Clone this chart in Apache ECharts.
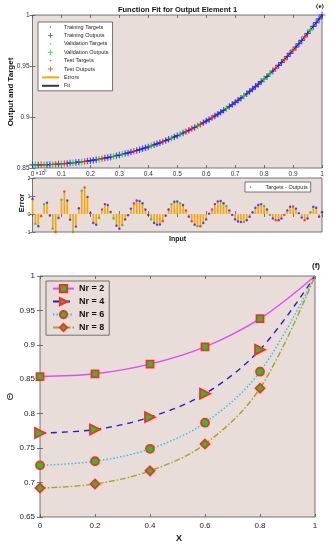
<!DOCTYPE html>
<html><head><meta charset="utf-8">
<script src="https://cdn.jsdelivr.net/npm/echarts@6/dist/echarts.min.js"></script>
<style>html,body{margin:0;padding:0;background:#fff}#c{width:334px;height:550px}</style>
</head><body><div id="c"></div>
<script>
// ---------- (e) Function fit data ----------
const inputs = [0,0.01,0.02,0.03,0.04,0.05,0.06,0.07,0.08,0.09,
0.1,0.11,0.12,0.13,0.14,0.15,0.16,0.17,0.18,0.19,
0.2,0.21,0.22,0.23,0.24,0.25,0.26,0.27,0.28,0.29,
0.3,0.31,0.32,0.33,0.34,0.35,0.36,0.37,0.38,0.39,
0.4,0.41,0.42,0.43,0.44,0.45,0.46,0.47,0.48,0.49,
0.5,0.51,0.52,0.53,0.54,0.55,0.56,0.57,0.58,0.59,
0.6,0.61,0.62,0.63,0.64,0.65,0.66,0.67,0.68,0.69,
0.7,0.71,0.72,0.73,0.74,0.75,0.76,0.77,0.78,0.79,
0.8,0.81,0.82,0.83,0.84,0.85,0.86,0.87,0.88,0.89,
0.9,0.91,0.92,0.93,0.94,0.95,0.96,0.97,0.98,0.99,1];
const outputs = [0.8530,0.8530,0.8530,0.8531,0.8532,0.8533,0.8534,0.8535,0.8537,0.8538,
0.8540,0.8543,0.8545,0.8548,0.8551,0.8554,0.8557,0.8560,0.8564,0.8568,
0.8572,0.8577,0.8581,0.8586,0.8591,0.8597,0.8602,0.8608,0.8614,0.8621,
0.8627,0.8634,0.8641,0.8648,0.8656,0.8664,0.8672,0.8680,0.8689,0.8698,
0.8707,0.8717,0.8727,0.8737,0.8747,0.8758,0.8769,0.8781,0.8792,0.8805,
0.8817,0.8830,0.8843,0.8856,0.8870,0.8884,0.8898,0.8913,0.8928,0.8944,
0.8960,0.8976,0.8993,0.9011,0.9028,0.9046,0.9065,0.9084,0.9103,0.9123,
0.9143,0.9164,0.9185,0.9206,0.9228,0.9251,0.9274,0.9298,0.9322,0.9347,
0.9372,0.9397,0.9424,0.9451,0.9478,0.9506,0.9534,0.9563,0.9593,0.9624,
0.9655,0.9686,0.9718,0.9751,0.9785,0.9819,0.9854,0.9889,0.9925,0.9962,
1.0000];
// errors (targets - outputs), in units of 1e-5
const errors = [0.83,-0.55,-0.68,-0.12,0.55,0.63,-0.08,-0.82,-1.0,-0.22,
0.8,1.25,0.75,-0.32,-1.0,-0.7,0.32,1.3,1.48,0.95,
0.05,-0.5,-0.6,-0.22,0.25,0.55,0.5,0.12,-0.25,-0.65,
-0.82,-0.62,-0.3,-0.07,0.3,0.6,0.75,0.72,0.6,0.25,
-0.05,-0.3,-0.5,-0.6,-0.58,-0.4,-0.1,0.25,0.55,0.68,
0.7,0.6,0.5,0.2,-0.15,-0.4,-0.6,-0.68,-0.68,-0.5,
-0.3,0.02,0.25,0.55,0.7,0.72,0.6,0.45,0.2,-0.05,
-0.3,-0.42,-0.45,-0.45,-0.35,-0.15,0.1,0.35,0.5,0.55,
0.45,0.25,-0.05,-0.25,-0.35,-0.35,-0.25,-0.05,0.2,0.4,
0.42,0.3,0.05,-0.2,-0.35,-0.25,0.1,0.4,0.35,-0.15,
0.1];
const validationIdx = [1,4,7,10,14,17,23,28,31,41,48,51,57,67,73,80,82,96];
const testIdx = [3,8,11,18,24,35,45,53,55,58,62,84,87,90,94];
const fitXTicks = {min:0, max:1, interval:0.1};
const fitYTicks = {min:0.85, max:1, interval:0.05};
const errYTicks = {min:-1, max:2, interval:1};

// ---------- (f) Theta curves ----------
const xPts = [0, 0.2, 0.4, 0.6, 0.8, 1];
const nr2 = [0.854, 0.858, 0.872, 0.897, 0.938, 1];
const nr4 = [0.772, 0.777, 0.795, 0.829, 0.893, 1];
const nr6 = [0.725, 0.731, 0.749, 0.787, 0.861, 1];
const nr8 = [0.692, 0.698, 0.717, 0.756, 0.837, 1];
const seriesNames = ['Nr = 2', 'Nr = 4', 'Nr = 6', 'Nr = 8'];
const thetaXTicks = {min:0, max:1, interval:0.2};
const thetaYTicks = {min:0.65, max:1, interval:0.05};

// ---------- build ----------
const BG = '#e8ddd9';
const FONT = '"Liberation Sans", Arial, sans-serif';
const C_TR = '#2323ff', C_VA = '#12d012', C_TE = '#ff2020';
const subsetOf = i => validationIdx.includes(i) ? 'V' : (testIdx.includes(i) ? 'S' : 'T');
const pick = (s, ys) => inputs.map((x, i) => [x, ys[i]]).filter((p, i) => subsetOf(i) === s);
const targets = outputs.map((o, i) => o + errors[i] * 1e-5);
const dotPath = 'path://M0,0M10,10M5,3.4a1.6,1.6 0 1 1 0,3.2a1.6,1.6 0 1 1 0,-3.2z';
const plusPath = 'path://M4.2,0.5h1.6v3.7h3.7v1.6h-3.7v3.7h-1.6v-3.7h-3.7v-1.6h3.7z';

function ax(gridIndex, position, t, showLabel, fontSize, margin, color) {
  return {
    type: 'value', gridIndex, position, min: t.min, max: t.max, interval: t.interval,
    axisLine: {show: false}, splitLine: {show: false},
    axisTick: {show: true, inside: true, length: 3, lineStyle: {color: '#555', width: 0.8}},
    axisLabel: {show: showLabel, fontSize, margin, color: color || '#333', fontFamily: FONT}
  };
}
const gridCommon = {show: true, backgroundColor: BG, borderColor: '#555', borderWidth: 0.8, containLabel: false, outerBoundsMode: 'none'};

const colorOf = s => s === 'V' ? C_VA : (s === 'S' ? C_TE : C_TR);
const errDots = inputs.map((x, i) => ({value: [x, errors[i]], itemStyle: {color: colorOf(subsetOf(i))}}));
const errBars = inputs.map((x, i) => [x, errors[i]]);

const markerStyle = {color: '#1ec81e', borderColor: '#ff2a2a', borderWidth: 1.8};
function thetaSeries(name, ys, color, type, symbol, size, rotate) {
  return {
    name, type: 'line', xAxisIndex: 4, yAxisIndex: 4, smooth: 0.35,
    data: xPts.map((x, i) => i === xPts.length - 1 ? {value: [x, ys[i]], symbol: 'none'} : [x, ys[i]]),
    symbol, symbolSize: size, symbolRotate: rotate || 0,
    lineStyle: {color, width: 1.4, type},
    itemStyle: markerStyle, z: 3
  };
}

const option = {
  animation: false,
  textStyle: {fontFamily: FONT},
  grid: [
    Object.assign({left: 32.5, top: 15, width: 289.5, height: 153}, gridCommon),
    Object.assign({left: 32.5, top: 178, width: 289.5, height: 54}, gridCommon),
    Object.assign({left: 40, top: 276, width: 275, height: 241}, gridCommon)
  ],
  xAxis: [
    ax(0, 'bottom', fitXTicks, true, 6.5, 3),
    ax(0, 'top', fitXTicks, false),
    ax(1, 'bottom', fitXTicks, false),
    ax(1, 'top', fitXTicks, false),
    ax(2, 'bottom', thetaXTicks, true, 8, 5, '#222'),
    ax(2, 'top', thetaXTicks, false)
  ],
  yAxis: [
    ax(0, 'left', fitYTicks, true, 6.5, 3),
    ax(0, 'right', fitYTicks, false),
    ax(1, 'left', errYTicks, true, 5.5, 2),
    ax(1, 'right', errYTicks, false),
    ax(2, 'left', thetaYTicks, true, 8, 5, '#222'),
    ax(2, 'right', thetaYTicks, false)
  ],
  legend: [
    {orient: 'vertical', left: 38, top: 22, padding: [2, 4, 2, 3], itemWidth: 17, itemHeight: 5, itemGap: 2.4,
     backgroundColor: '#fff', borderColor: '#555', borderWidth: 0.8, selectedMode: false,
     textStyle: {fontSize: 5.5, lineHeight: 6, color: '#222'},
     data: ['Training Targets', 'Training Outputs', 'Validation Targets', 'Validation Outputs', 'Test Targets', 'Test Outputs',
            {name: 'Errors', itemStyle: {opacity: 0}}, {name: 'Fit', itemStyle: {opacity: 0}}]},
    {orient: 'horizontal', left: 245, top: 182, padding: [2, 3, 2, 3], itemWidth: 20, itemHeight: 5,
     backgroundColor: '#fff', borderColor: '#555', borderWidth: 0.8, selectedMode: false,
     textStyle: {fontSize: 5.5, lineHeight: 6, color: '#222'},
     data: ['Targets - Outputs']},
    {orient: 'vertical', left: 46, top: 281, padding: [3, 5, 3, 6], itemWidth: 21, itemHeight: 9, itemGap: 3.8,
     backgroundColor: BG, borderColor: '#555', borderWidth: 0.8, selectedMode: false,
     textStyle: {fontSize: 9, fontWeight: 'bold', lineHeight: 9, color: '#111'},
     data: seriesNames}
  ],
  series: [
    {name: 'Fit', type: 'line', xAxisIndex: 0, yAxisIndex: 0, data: inputs.map((x, i) => [x, outputs[i]]),
     symbol: 'none', lineStyle: {color: '#3a3a3a', width: 1.3}, itemStyle: {color: '#3a3a3a'}, z: 1},
    {name: 'Errors', type: 'line', xAxisIndex: 0, yAxisIndex: 0, data: [],
     symbol: 'none', lineStyle: {color: '#ffa500', width: 1.6}, itemStyle: {color: '#ffa500'}},
    {name: 'Training Targets', type: 'scatter', xAxisIndex: 0, yAxisIndex: 0, data: pick('T', targets), symbol: dotPath, symbolSize: 6, itemStyle: {color: C_TR}, z: 2},
    {name: 'Training Outputs', type: 'scatter', xAxisIndex: 0, yAxisIndex: 0, data: pick('T', outputs), symbol: plusPath, symbolSize: 6.5, itemStyle: {color: C_TR}, z: 3},
    {name: 'Validation Targets', type: 'scatter', xAxisIndex: 0, yAxisIndex: 0, data: pick('V', targets), symbol: dotPath, symbolSize: 6, itemStyle: {color: C_VA}, z: 2},
    {name: 'Validation Outputs', type: 'scatter', xAxisIndex: 0, yAxisIndex: 0, data: pick('V', outputs), symbol: plusPath, symbolSize: 6.5, itemStyle: {color: C_VA}, z: 4},
    {name: 'Test Targets', type: 'scatter', xAxisIndex: 0, yAxisIndex: 0, data: pick('S', targets), symbol: dotPath, symbolSize: 6, itemStyle: {color: C_TE}, z: 2},
    {name: 'Test Outputs', type: 'scatter', xAxisIndex: 0, yAxisIndex: 0, data: pick('S', outputs), symbol: plusPath, symbolSize: 6.5, itemStyle: {color: C_TE}, z: 4},
    {name: 'errbars', type: 'custom', xAxisIndex: 2, yAxisIndex: 2, data: errBars, silent: true, z: 2,
     renderItem: function (params, api) {
       const p0 = api.coord([api.value(0), 0]);
       const p1 = api.coord([api.value(0), api.value(1)]);
       return {type: 'rect', shape: {x: p0[0] - 0.8, y: Math.min(p0[1], p1[1]), width: 1.6, height: Math.abs(p1[1] - p0[1])},
               style: {fill: '#ffa200'}};
     }},
    {name: 'Targets - Outputs', type: 'scatter', xAxisIndex: 2, yAxisIndex: 2, data: errDots, symbol: dotPath, symbolSize: 7.5, itemStyle: {color: C_TR}, z: 3},
    thetaSeries(seriesNames[0], nr2, '#e04cf5', 'solid', 'rect', 7),
    thetaSeries(seriesNames[1], nr4, '#2a1fc4', [6, 5], 'triangle', 10, -90),
    thetaSeries(seriesNames[2], nr6, '#1ec4f0', [1.5, 2], 'circle', 8),
    thetaSeries(seriesNames[3], nr8, '#aaa024', [6, 2, 1.5, 2], 'diamond', 9)
  ],
  graphic: [
    {type: 'text', x: 177.5, y: 10, style: {text: 'Function Fit for Output Element 1', fontSize: 7.5, fontWeight: 'bold', fontFamily: FONT, fill: '#111', align: 'center', verticalAlign: 'middle'}},
    {type: 'text', x: 320, y: 6.5, style: {text: '(e)', fontSize: 7, fontWeight: 'bold', fontFamily: '"Liberation Serif", serif', fill: '#111', align: 'center', verticalAlign: 'middle'}},
    {type: 'text', x: 11, y: 92, rotation: Math.PI / 2, style: {text: 'Output and Target', fontSize: 8, fontWeight: 'bold', fontFamily: FONT, fill: '#111', align: 'center', verticalAlign: 'middle'}},
    {type: 'text', x: 35.5, y: 173.5, style: {text: '×10', fontSize: 5.5, fontFamily: FONT, fill: '#333', align: 'left', verticalAlign: 'middle'}},
    {type: 'text', x: 42.8, y: 171, style: {text: '-5', fontSize: 4.2, fontFamily: FONT, fill: '#333', align: 'left', verticalAlign: 'middle'}},
    {type: 'text', x: 21.5, y: 203, rotation: Math.PI / 2, style: {text: 'Error', fontSize: 7.5, fontWeight: 'bold', fontFamily: FONT, fill: '#111', align: 'center', verticalAlign: 'middle'}},
    {type: 'text', x: 177.5, y: 239.5, style: {text: 'Input', fontSize: 7, fontWeight: 'bold', fontFamily: FONT, fill: '#111', align: 'center', verticalAlign: 'middle'}},
    {type: 'text', x: 316, y: 266, style: {text: '(f)', fontSize: 8, fontWeight: 'bold', fontFamily: FONT, fill: '#111', align: 'center', verticalAlign: 'middle'}},
    {type: 'text', x: 10, y: 396.5, rotation: Math.PI / 2, style: {text: 'Θ', fontSize: 9.5, fontFamily: FONT, fill: '#111', align: 'center', verticalAlign: 'middle'}},
    {type: 'text', x: 179, y: 539, style: {text: 'X', fontSize: 9, fontWeight: 'bold', fontFamily: FONT, fill: '#111', align: 'center', verticalAlign: 'middle'}}
  ]
};
const chart = echarts.init(document.getElementById('c'), null, {renderer: 'canvas'});
chart.setOption(option);
</script></body></html>
